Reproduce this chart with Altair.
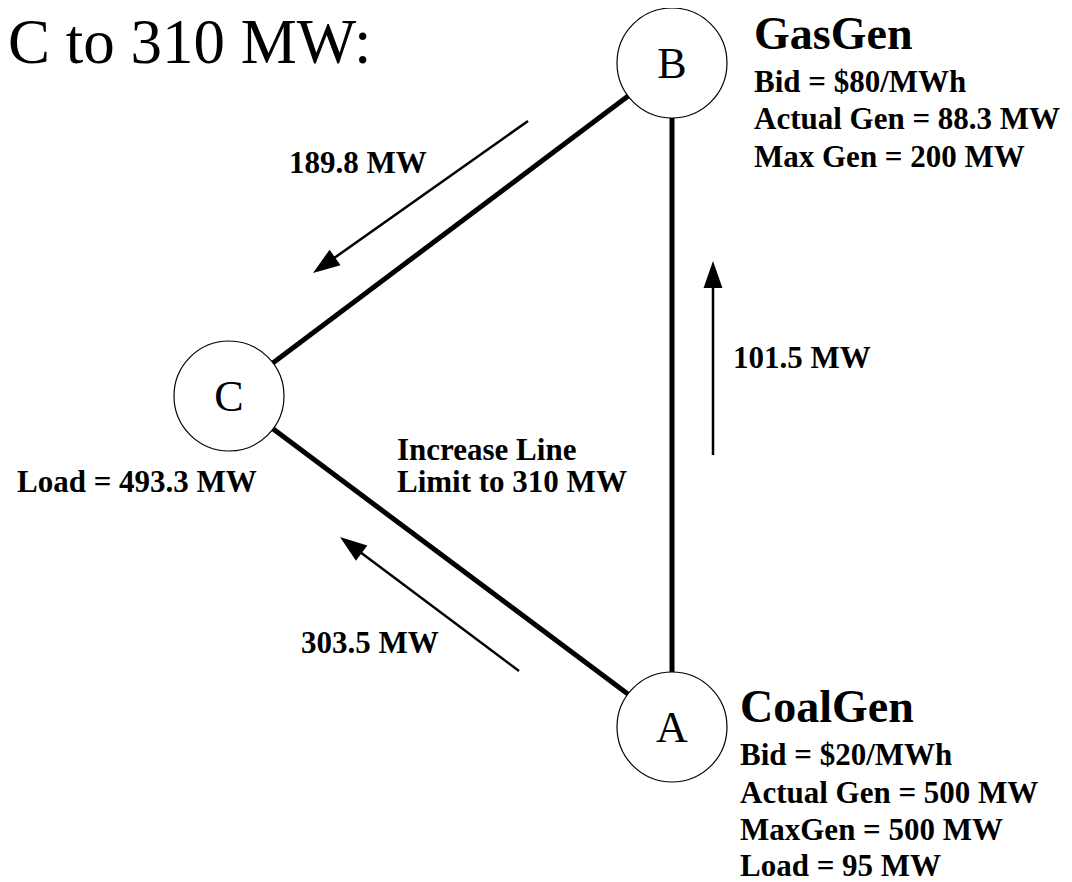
import math
import altair as alt
import pandas as pd

# ---- data ----
node_names = ["A", "B", "C"]
node_x = [672, 672, 229]
node_y = [727, 63, 396]

edge_from = ["B", "B", "C"]
edge_to = ["C", "A", "A"]

# flow arrows: tail -> tip
arrow_labels = ["189.8 MW", "101.5 MW", "303.5 MW"]
arrow_tail_x = [528, 713, 519]
arrow_tail_y = [121, 455, 671]
arrow_tip_x = [313, 713, 340]
arrow_tip_y = [273, 261, 537]

title_text = ["C to 310 MW:"]
title_x = [8]
title_y = [63]

head_texts = ["GasGen", "CoalGen"]
head_x = [754, 740]
head_y = [49, 722]

info_texts = [
    "Bid = $80/MWh", "Actual Gen = 88.3 MW", "Max Gen = 200 MW",
    "Bid = $20/MWh", "Actual Gen = 500 MW", "MaxGen = 500 MW", "Load = 95 MW",
    "189.8 MW", "101.5 MW", "303.5 MW",
    "Increase Line", "Limit to 310 MW", "Load = 493.3 MW",
]
info_x = [754, 754, 754, 740, 740, 740, 740, 289, 733, 301, 397, 397, 17]
info_y = [92, 129, 167, 765, 803, 840, 876, 173, 368, 653, 460, 492, 492]

# ---- tables ----
W, H = 1056, 874
xs = alt.Scale(domain=[8, 8 + W], range=[0, W], nice=False, zero=False)
ys = alt.Scale(domain=[8, 8 + H], range=[0, H], nice=False, zero=False)
X = lambda f: alt.X(f, type="quantitative", scale=xs, axis=None)
Y = lambda f: alt.Y(f, type="quantitative", scale=ys, axis=None)

pos = {n: (x, y) for n, x, y in zip(node_names, node_x, node_y)}
edges = pd.DataFrame({
    "x": [pos[a][0] for a in edge_from], "y": [pos[a][1] for a in edge_from],
    "x2": [pos[b][0] for b in edge_to], "y2": [pos[b][1] for b in edge_to],
})
nodes = pd.DataFrame({"name": node_names, "x": node_x, "y": node_y})

HEAD_LEN = 27.0
shafts, heads = [], []
for tx, ty, px, py in zip(arrow_tail_x, arrow_tail_y, arrow_tip_x, arrow_tip_y):
    dx, dy = px - tx, py - ty
    L = math.hypot(dx, dy)
    ux, uy = dx / L, dy / L
    shafts.append({"x": tx, "y": ty, "x2": px - ux * (HEAD_LEN - 4), "y2": py - uy * (HEAD_LEN - 4)})
    ang = math.degrees(math.atan2(dx, -dy)) % 360
    heads.append({"x": px - ux * HEAD_LEN / 2, "y": py - uy * HEAD_LEN / 2, "angle": ang})
shafts = pd.DataFrame(shafts)
heads = pd.DataFrame(heads)

titles = pd.DataFrame({"t": title_text, "x": title_x, "y": title_y})
headers = pd.DataFrame({"t": head_texts, "x": head_x, "y": head_y})
infos = pd.DataFrame({"t": info_texts, "x": info_x, "y": info_y})

FONT = "Liberation Serif"

edge_layer = alt.Chart(edges).mark_rule(color="black", strokeWidth=5).encode(
    x=X("x"), y=Y("y"), x2="x2", y2="y2")

circle_layer = alt.Chart(nodes).mark_point(
    shape="circle", filled=True, fill="white", stroke="black", strokeWidth=1.2,
    size=110 * 110, opacity=1).encode(x=X("x"), y=Y("y"))

letter_layer = alt.Chart(nodes).mark_text(
    font=FONT, fontSize=44, baseline="middle", align="center", color="black", dy=2).encode(
    x=X("x"), y=Y("y"), text="name:N")

shaft_layer = alt.Chart(shafts).mark_rule(color="black", strokeWidth=2.5).encode(
    x=X("x"), y=Y("y"), x2="x2", y2="y2")

head_layer = alt.Chart(heads).mark_point(
    shape="M0,-1L0.7,1L-0.7,1Z", filled=True, color="black", opacity=1,
    size=HEAD_LEN * HEAD_LEN).encode(
    x=X("x"), y=Y("y"), angle=alt.Angle("angle:Q", scale=None))

title_layer = alt.Chart(titles).mark_text(
    font=FONT, fontSize=63, align="left", baseline="alphabetic", color="black").encode(
    x=X("x"), y=Y("y"), text="t:N")

header_layer = alt.Chart(headers).mark_text(
    font=FONT, fontSize=46, fontWeight="bold", align="left", baseline="alphabetic",
    color="black").encode(x=X("x"), y=Y("y"), text="t:N")

info_layer = alt.Chart(infos).mark_text(
    font=FONT, fontSize=31, fontWeight="bold", align="left", baseline="alphabetic",
    color="black").encode(x=X("x"), y=Y("y"), text="t:N")

chart = alt.layer(
    edge_layer, circle_layer, letter_layer, shaft_layer, head_layer,
    title_layer, header_layer, info_layer,
).properties(
    width=W, height=H, autosize=alt.AutoSizeParams(type="none"), padding=0,
    background="white",
).configure_view(stroke=None)

chart.save("out.html", embed_options={"renderer": "svg", "actions": False})
